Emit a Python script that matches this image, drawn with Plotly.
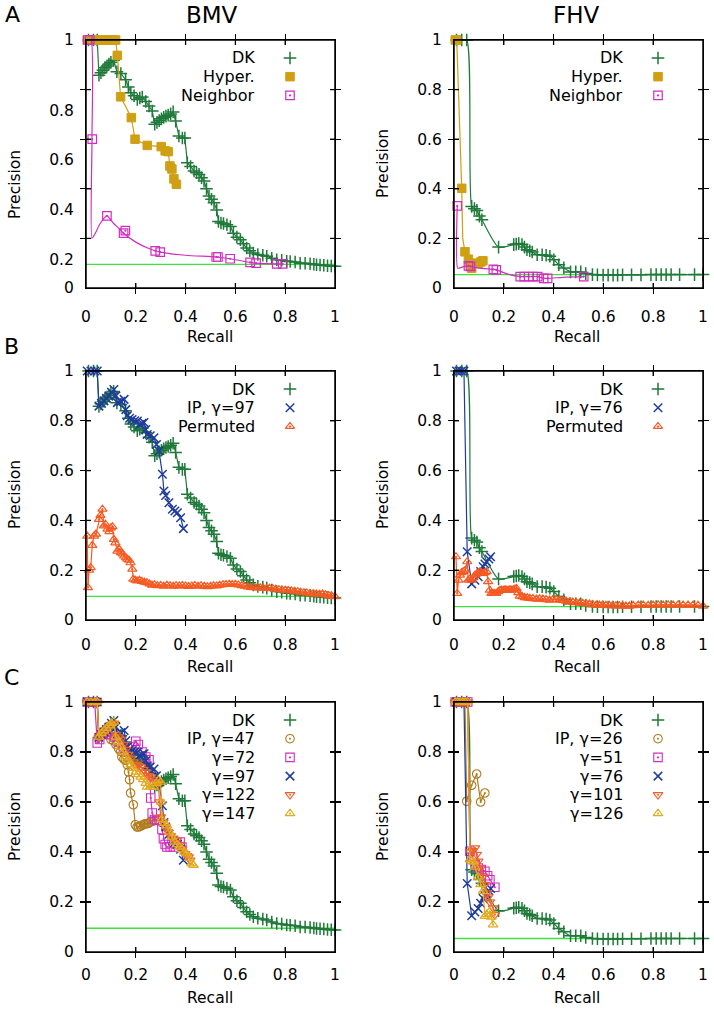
import plotly.graph_objects as go

W, H = 714, 1009
FONT = "DejaVu Sans"

# ---------------- data (recall, precision) ----------------
dk_bmv = [(0.01,1.0),(0.03,1.0),(0.045,1.0),(0.052,0.858),(0.06,0.868),(0.068,0.878),(0.076,0.888),(0.084,0.895),
          (0.092,0.903),(0.10,0.91),(0.111,0.918),(0.124,0.872),(0.14,0.865),(0.159,0.84),(0.17,0.81),(0.18,0.787),
          (0.193,0.775),(0.206,0.76),(0.216,0.766),(0.226,0.77),(0.24,0.752),(0.253,0.734),(0.266,0.714),(0.276,0.66),
          (0.285,0.668),(0.294,0.675),(0.303,0.682),(0.312,0.688),(0.321,0.693),(0.33,0.697),(0.34,0.702),(0.35,0.71),
          (0.36,0.673),(0.373,0.613),(0.387,0.605),(0.397,0.605),(0.407,0.505),(0.42,0.49),(0.434,0.472),(0.444,0.465),
          (0.454,0.458),(0.464,0.445),(0.474,0.431),(0.484,0.40),(0.494,0.371),(0.504,0.358),(0.514,0.344),(0.525,0.315),
          (0.532,0.268),(0.542,0.262),(0.552,0.26),(0.566,0.255),(0.58,0.248),(0.592,0.221),(0.606,0.205),(0.62,0.195),
          (0.632,0.178),(0.645,0.161),(0.658,0.15),(0.672,0.141),(0.69,0.135),(0.71,0.132),(0.726,0.128),(0.746,0.12),
          (0.766,0.114),(0.786,0.112),(0.806,0.108),(0.82,0.107),(0.84,0.105),(0.86,0.10),(0.88,0.10),(0.90,0.098),
          (0.915,0.096),(0.926,0.094),(0.94,0.093),(0.955,0.092),(0.97,0.09),(0.985,0.089),(1.0,0.088)]

dk_fhv = [(0.01,1.0),(0.031,1.0),(0.051,1.0),(0.071,0.329),(0.082,0.32),(0.092,0.313),(0.102,0.29),(0.112,0.275),
          (0.179,0.165),(0.24,0.175),(0.25,0.177),(0.26,0.179),(0.273,0.175),(0.283,0.165),(0.293,0.154),(0.304,0.15),
          (0.314,0.145),(0.334,0.134),(0.354,0.134),(0.37,0.132),(0.385,0.128),(0.401,0.114),(0.421,0.094),(0.441,0.081),
          (0.468,0.065),(0.489,0.065),(0.509,0.065),(0.529,0.058),(0.556,0.054),(0.576,0.053),(0.599,0.052),(0.619,0.052),
          (0.639,0.052),(0.657,0.052),(0.677,0.053),(0.713,0.053),(0.751,0.053),(0.791,0.054),(0.812,0.054),(0.832,0.054),
          (0.852,0.054),(0.872,0.054),(0.906,0.054),(0.966,0.054),(1.0,0.054)]

hyper_bmv = [(0.005,1.0),(0.02,1.0),(0.035,1.0),(0.05,1.0),(0.065,1.0),(0.08,1.0),(0.095,1.0),(0.11,1.0),(0.119,1.0),
             (0.126,0.938),(0.139,0.771),(0.182,0.687),(0.197,0.60),(0.246,0.575),(0.302,0.57),(0.318,0.553),(0.33,0.55),
             (0.337,0.492),(0.345,0.48),(0.353,0.44),(0.363,0.418)]

hyper_fhv_line = [(0.005,1.0),(0.011,1.0),(0.031,0.402),(0.035,0.20),(0.044,0.146),(0.058,0.116),(0.065,0.10),
                  (0.071,0.079),(0.098,0.10),(0.108,0.105),(0.116,0.11)]
hyper_fhv_pts = [(0.005,1.0),(0.011,1.0),(0.031,0.402),(0.044,0.146),(0.058,0.116),(0.065,0.10),(0.071,0.079),
                 (0.098,0.10),(0.108,0.105),(0.116,0.11)]

neigh_bmv_line = [(0.005,1.0),(0.02,1.0),(0.024,0.60),(0.024,0.20),(0.037,0.22),(0.057,0.26),(0.084,0.291),(0.111,0.26),
                  (0.138,0.235),(0.151,0.221),(0.2,0.185),(0.25,0.16),(0.278,0.15),(0.298,0.145),(0.4,0.132),
                  (0.523,0.125),(0.579,0.118),(0.659,0.103),(0.683,0.10),(0.766,0.097),(0.79,0.097)]
neigh_bmv_pts = [(0.007,1.0),(0.015,1.0),(0.025,0.60),(0.084,0.291),(0.151,0.221),(0.158,0.231),(0.278,0.15),
                 (0.298,0.145),(0.523,0.125),(0.53,0.125),(0.579,0.118),(0.659,0.103),(0.683,0.10),(0.766,0.097),(0.79,0.097)]

neigh_fhv_line = [(0.013,0.331),(0.015,0.08),(0.035,0.085),(0.058,0.089),(0.066,0.087),(0.10,0.08),(0.158,0.075),
                  (0.17,0.073),(0.22,0.055),(0.266,0.046),(0.336,0.046),(0.36,0.039),(0.376,0.039),(0.45,0.044),(0.521,0.046)]
neigh_fhv_pts = [(0.013,0.331),(0.058,0.089),(0.066,0.087),(0.158,0.075),(0.17,0.073),(0.266,0.046),(0.282,0.046),
                 (0.30,0.046),(0.317,0.046),(0.336,0.046),(0.36,0.039),(0.376,0.039),(0.521,0.046)]

ip97_bmv = [(0.005,1.0),(0.02,1.0),(0.035,1.0),(0.045,1.0),(0.052,0.859),(0.062,0.87),(0.072,0.88),(0.082,0.89),
            (0.092,0.90),(0.102,0.915),(0.112,0.926),(0.12,0.90),(0.126,0.873),(0.14,0.878),(0.153,0.886),(0.16,0.845),
            (0.166,0.82),(0.175,0.81),(0.185,0.805),(0.195,0.80),(0.206,0.799),(0.215,0.785),(0.225,0.79),(0.233,0.793),
            (0.24,0.765),(0.246,0.745),(0.258,0.74),(0.273,0.732),(0.283,0.705),(0.293,0.679),(0.307,0.585),(0.313,0.518),
            (0.32,0.50),(0.333,0.471),(0.347,0.445),(0.357,0.438),(0.367,0.431),(0.38,0.411),(0.391,0.367)]

perm_bmv = [(0.005,0.337),(0.008,0.13),(0.012,0.20),(0.019,0.21),(0.025,0.30),(0.032,0.337),(0.04,0.345),(0.052,0.404),
            (0.058,0.42),(0.066,0.445),(0.072,0.378),(0.078,0.385),(0.086,0.365),(0.094,0.355),(0.10,0.37),(0.106,0.375),
            (0.112,0.324),(0.118,0.31),(0.126,0.277),(0.133,0.285),(0.14,0.27),(0.147,0.265),(0.153,0.257),(0.16,0.25),
            (0.166,0.244),(0.173,0.24),(0.179,0.23),(0.186,0.204),(0.19,0.164),(0.198,0.16),(0.206,0.157),(0.215,0.16),
            (0.225,0.155),(0.235,0.152),(0.245,0.15),(0.255,0.145),(0.265,0.14),(0.275,0.142),(0.287,0.138),(0.30,0.139),
            (0.312,0.136),(0.325,0.14),(0.337,0.138),(0.35,0.136),(0.362,0.138),(0.375,0.137),(0.387,0.139),(0.40,0.137),
            (0.412,0.135),(0.425,0.137),(0.437,0.139),(0.45,0.136),(0.462,0.138),(0.475,0.136),(0.487,0.134),(0.50,0.136),
            (0.512,0.138),(0.525,0.137),(0.537,0.14),(0.55,0.142),(0.562,0.143),(0.575,0.144),(0.587,0.143),(0.60,0.144),
            (0.612,0.141),(0.625,0.138),(0.637,0.136),(0.65,0.133),(0.662,0.131),(0.675,0.13),(0.687,0.129),(0.70,0.13),
            (0.712,0.128),(0.725,0.127),(0.737,0.128),(0.75,0.126),(0.762,0.124),(0.775,0.122),(0.787,0.121),(0.80,0.12),
            (0.812,0.119),(0.825,0.117),(0.837,0.116),(0.85,0.114),(0.862,0.112),(0.875,0.11),(0.887,0.109),(0.90,0.107),
            (0.912,0.105),(0.925,0.104),(0.937,0.103),(0.95,0.104),(0.962,0.101),(0.975,0.098),(0.987,0.096),(1.0,0.094)]

ip76_fhv = [(0.01,1.0),(0.02,1.0),(0.03,1.0),(0.04,1.0),(0.053,0.274),(0.071,0.145),(0.084,0.16),(0.097,0.174),
            (0.107,0.195),(0.117,0.214),(0.124,0.225),(0.131,0.234),(0.14,0.245),(0.147,0.254)]

perm_fhv = [(0.008,0.254),(0.013,0.107),(0.018,0.16),(0.024,0.18),(0.03,0.19),(0.037,0.194),(0.045,0.20),(0.053,0.234),
            (0.057,0.16),(0.064,0.165),(0.071,0.16),(0.078,0.17),(0.084,0.18),(0.091,0.185),(0.097,0.19),(0.104,0.194),
            (0.11,0.19),(0.117,0.187),(0.124,0.19),(0.131,0.194),(0.137,0.154),(0.144,0.12),(0.15,0.107),(0.157,0.107),
            (0.164,0.107),(0.17,0.107),(0.178,0.115),(0.185,0.12),(0.191,0.12),(0.198,0.12),(0.205,0.122),(0.211,0.12),
            (0.218,0.12),(0.225,0.122),(0.231,0.12),(0.238,0.122),(0.245,0.125),(0.251,0.127),(0.258,0.11),(0.264,0.096),
            (0.274,0.094),(0.284,0.09),(0.294,0.089),(0.304,0.087),(0.317,0.086),(0.331,0.084),(0.344,0.085),(0.357,0.084),
            (0.37,0.082),(0.384,0.08),(0.397,0.082),(0.411,0.083),(0.424,0.08),(0.437,0.079),(0.45,0.076),(0.464,0.073),
            (0.477,0.072),(0.491,0.07),(0.504,0.068),(0.517,0.067),(0.53,0.066),(0.544,0.064),(0.557,0.062),(0.571,0.06),
            (0.584,0.06),(0.597,0.06),(0.61,0.059),(0.624,0.058),(0.637,0.058),(0.65,0.057),(0.664,0.057),(0.677,0.057),
            (0.69,0.056),(0.704,0.056),(0.72,0.058),(0.74,0.06),(0.76,0.06),(0.78,0.059),(0.80,0.06),(0.82,0.061),
            (0.84,0.06),(0.86,0.061),(0.88,0.06),(0.90,0.061),(0.92,0.06),(0.94,0.06),(0.96,0.06),(0.98,0.059),(1.0,0.056)]

ip47_bmv = [(0.005,1.0),(0.02,1.0),(0.035,1.0),(0.045,1.0),(0.05,0.86),(0.06,0.87),(0.07,0.88),(0.08,0.885),(0.09,0.87),
            (0.10,0.85),(0.11,0.845),(0.12,0.83),(0.131,0.813),(0.139,0.803),(0.144,0.78),(0.152,0.772),(0.158,0.767),
            (0.166,0.749),(0.171,0.72),(0.175,0.689),(0.179,0.636),(0.19,0.589),(0.198,0.509),(0.205,0.50),(0.211,0.50),
            (0.218,0.503),(0.225,0.507),(0.232,0.51),(0.238,0.513),(0.245,0.513),(0.251,0.515),(0.258,0.52),(0.265,0.523),
            (0.275,0.525)]
ip72_bmv = [(0.005,1.0),(0.02,1.0),(0.035,1.0),(0.045,0.836),(0.055,0.85),(0.07,0.87),(0.085,0.88),(0.10,0.87),
            (0.115,0.86),(0.13,0.84),(0.15,0.815),(0.17,0.80),(0.185,0.82),(0.20,0.843),(0.21,0.83),(0.225,0.80),
            (0.24,0.78),(0.253,0.769),(0.26,0.616),(0.266,0.556),(0.275,0.53),(0.285,0.527),(0.298,0.527),(0.305,0.49),
            (0.311,0.453),(0.318,0.43),(0.325,0.42),(0.338,0.42),(0.351,0.42),(0.365,0.43),(0.378,0.44),(0.385,0.42)]
ip122_bmv = [(0.005,1.0),(0.02,1.0),(0.035,1.0),(0.045,1.0),(0.052,0.86),(0.062,0.87),(0.072,0.88),(0.082,0.89),
             (0.092,0.90),(0.102,0.91),(0.112,0.915),(0.12,0.87),(0.13,0.86),(0.14,0.85),(0.15,0.83),(0.16,0.81),
             (0.17,0.79),(0.18,0.775),(0.19,0.76),(0.20,0.75),(0.21,0.745),(0.22,0.74),(0.23,0.73),(0.24,0.72),
             (0.25,0.705),(0.26,0.70),(0.27,0.69),(0.28,0.68),(0.29,0.675),(0.295,0.60),(0.30,0.54),(0.31,0.52),
             (0.32,0.50),(0.33,0.48),(0.34,0.465),(0.35,0.455),(0.365,0.447),(0.375,0.43),(0.385,0.413),(0.398,0.393),
             (0.405,0.385),(0.412,0.38),(0.418,0.367)]
ip147_bmv = [(0.005,1.0),(0.02,1.0),(0.035,1.0),(0.045,1.0),(0.052,0.86),(0.062,0.875),(0.072,0.885),(0.082,0.895),
             (0.092,0.905),(0.102,0.915),(0.112,0.92),(0.12,0.86),(0.13,0.84),(0.14,0.82),(0.15,0.80),(0.16,0.78),
             (0.17,0.765),(0.18,0.75),(0.19,0.735),(0.20,0.72),(0.21,0.71),(0.22,0.70),(0.23,0.69),(0.24,0.675),
             (0.245,0.66),(0.258,0.66),(0.271,0.66),(0.281,0.675),(0.291,0.687),(0.30,0.68),(0.302,0.60),(0.305,0.53),
             (0.315,0.515),(0.325,0.505),(0.335,0.48),(0.345,0.46),(0.355,0.44),(0.365,0.43),(0.375,0.42),(0.385,0.41),
             (0.395,0.40),(0.405,0.393),(0.415,0.375),(0.425,0.353),(0.432,0.347)]

ip26_fhv = [(0.005,1.0),(0.015,1.0),(0.025,1.0),(0.035,1.0),(0.044,1.0),(0.051,0.603),(0.071,0.667),(0.091,0.712),
            (0.107,0.60),(0.124,0.636)]
ip51_fhv = [(0.005,1.0),(0.015,1.0),(0.025,1.0),(0.035,1.0),(0.045,1.0),(0.055,1.0),(0.064,0.403),(0.075,0.38),
            (0.085,0.35),(0.097,0.336),(0.11,0.33),(0.124,0.323),(0.135,0.305),(0.144,0.289),(0.164,0.259)]
ip101_fhv = [(0.005,1.0),(0.015,1.0),(0.025,1.0),(0.035,1.0),(0.045,1.0),(0.055,1.0),(0.064,0.40),(0.075,0.405),
             (0.084,0.416),(0.091,0.39),(0.097,0.363),(0.107,0.335),(0.117,0.303),(0.124,0.27),(0.131,0.236),
             (0.137,0.22),(0.144,0.20),(0.157,0.176),(0.164,0.149)]
ip126_fhv = [(0.005,1.0),(0.015,1.0),(0.025,1.0),(0.035,1.0),(0.045,1.0),(0.055,1.0),(0.064,0.37),(0.071,0.363),
             (0.078,0.36),(0.084,0.34),(0.097,0.30),(0.107,0.27),(0.117,0.243),(0.124,0.143),(0.131,0.15),(0.144,0.163),
             (0.15,0.14),(0.157,0.109)]

baseline_bmv = 0.095
baseline_fhv = 0.054

tick_vals = [0, 0.2, 0.4, 0.6, 0.8, 1]
tick_text = ["0", "0.2", "0.4", "0.6", "0.8", "1"]
# panel A/BMV y labels appear displaced relative to the tick marks in the source
a_left_label_pos = [0, 0.114, 0.315, 0.517, 0.714, 1.0]

# ---------------- styles ----------------
C_DK = "#1f7a3a"; C_HY = "#cf9f14"; C_NB = "#d22dbf"; C_IP = "#1f3c9c"
C_PM = "#f65a22"; C_G1 = "#b07c1e"; C_G4 = "#f0602a"; C_G5 = "#e2aa1e"; C_BASE = "#3ee23e"

ST = {
    "dk": dict(color=C_DK, symbol="cross-thin-open", size=9, lw=1.5),
    "hy": dict(color=C_HY, symbol="square", size=8.5, lw=1.0),
    "nb": dict(color=C_NB, symbol="square-open-dot", size=8.5, lw=1.2),
    "ip": dict(color=C_IP, symbol="x-thin-open", size=8.5, lw=1.5),
    "pm": dict(color=C_PM, symbol="triangle-up-open-dot", size=8, lw=1.2),
    "g1": dict(color=C_G1, symbol="circle-open-dot", size=8.5, lw=1.1),
    "g2": dict(color=C_NB, symbol="square-open-dot", size=8.5, lw=1.1),
    "g3": dict(color=C_IP, symbol="x-thin-open", size=8.5, lw=1.5),
    "g4": dict(color=C_G4, symbol="triangle-down-open-dot", size=8.5, lw=1.1),
    "g5": dict(color=C_G5, symbol="triangle-up-open-dot", size=8.5, lw=1.1),
}

# panel pixel boxes on screen: (left, right, top, bottom)
BOX = {1: (86, 335, 40, 288), 2: (454, 703, 40, 288),
       3: (86, 335, 371, 620), 4: (454, 703, 371, 620),
       5: (86, 335, 702, 952), 6: (454, 703, 702, 952)}
XLAB_GAP = {1: 14, 2: 14, 3: 10, 4: 10, 5: 8, 6: 8}

def fx(px):
    return px / W

def fy(py):
    return 1 - py / H

fig = go.Figure()

def ax(i):
    return ("x" if i == 1 else f"x{i}"), ("y" if i == 1 else f"y{i}")

def add_series(i, line, style, pts=None, shape="linear", smoothing=1.0):
    xa, ya = ax(i)
    st = ST[style]
    fig.add_trace(go.Scatter(x=[p[0] for p in line], y=[p[1] for p in line], mode="lines",
                             line=dict(color=st["color"], width=1.2, shape=shape, smoothing=smoothing),
                             xaxis=xa, yaxis=ya, showlegend=False, hoverinfo="skip", cliponaxis=False))
    pts = line if pts is None else pts
    fig.add_trace(go.Scatter(x=[p[0] for p in pts], y=[p[1] for p in pts], mode="markers",
                             marker=dict(color=st["color"], symbol=st["symbol"], size=st["size"],
                                         line=dict(color=st["color"], width=st["lw"])),
                             xaxis=xa, yaxis=ya, showlegend=False, cliponaxis=False, hoverinfo="skip"))

def add_base(i, val):
    xa, ya = ax(i)
    fig.add_trace(go.Scatter(x=[0, 1], y=[val, val], mode="lines", line=dict(color=C_BASE, width=1.3),
                             xaxis=xa, yaxis=ya, showlegend=False, hoverinfo="skip"))

def add_legend(i, items):
    l, r, t, b = BOX[i]
    w, h = r - l, b - t
    xa, ya = ax(i)
    for k, (label, style) in enumerate(items):
        yy = 1 - (18 + 18.7 * k) / h
        st = ST[style]
        fig.add_annotation(x=1 - 78 / w, y=yy, xref=xa, yref=ya, text=label,
                           showarrow=False, xanchor="right", yanchor="middle",
                           font=dict(family=FONT, size=16, color="black"))
        fig.add_trace(go.Scatter(x=[1 - 45 / w], y=[yy], mode="markers",
                                 marker=dict(color=st["color"], symbol=st["symbol"], size=st["size"],
                                             line=dict(color=st["color"], width=st["lw"])),
                                 xaxis=xa, yaxis=ya, showlegend=False, hoverinfo="skip", cliponaxis=False))

def add_frame(i):
    # plot box and inward tick marks on all four sides
    l, r, t, b = BOX[i]
    w, h = r - l, b - t
    xa, ya = ax(i)
    ln = dict(color="black", width=1.3)
    fig.add_shape(type="rect", xref=f"{xa} domain", yref=f"{ya} domain", x0=0, x1=1, y0=0, y1=1,
                  line=dict(color="black", width=1.5), layer="above")
    for v in tick_vals[1:-1]:
        fig.add_shape(type="line", xref=xa, yref=f"{ya} domain", x0=v, x1=v, y0=0, y1=5 / h, line=ln)
        fig.add_shape(type="line", xref=xa, yref=f"{ya} domain", x0=v, x1=v, y0=1 - 5 / h, y1=1, line=ln)
        fig.add_shape(type="line", xref=f"{xa} domain", yref=ya, x0=0, x1=5 / w, y0=v, y1=v, line=ln)
        fig.add_shape(type="line", xref=f"{xa} domain", yref=ya, x0=1 - 5 / w, x1=1, y0=v, y1=v, line=ln)

# Panel A
add_base(1, baseline_bmv)
add_series(1, dk_bmv, "dk")
add_series(1, hyper_bmv, "hy")
add_series(1, neigh_bmv_line, "nb", pts=neigh_bmv_pts, shape="spline", smoothing=0.6)
add_legend(1, [("DK", "dk"), ("Hyper.", "hy"), ("Neighbor", "nb")])

add_base(2, baseline_fhv)
add_series(2, dk_fhv, "dk", shape="spline", smoothing=0.7)
add_series(2, hyper_fhv_line, "hy", pts=hyper_fhv_pts)
add_series(2, neigh_fhv_line, "nb", pts=neigh_fhv_pts, shape="spline", smoothing=0.5)
add_legend(2, [("DK", "dk"), ("Hyper.", "hy"), ("Neighbor", "nb")])

# Panel B
add_base(3, baseline_bmv)
add_series(3, dk_bmv, "dk")
add_series(3, ip97_bmv, "ip")
add_series(3, perm_bmv, "pm")
add_legend(3, [("DK", "dk"), ("IP, γ=97", "ip"), ("Permuted", "pm")])

add_base(4, baseline_fhv)
add_series(4, dk_fhv, "dk", shape="spline", smoothing=0.7)
add_series(4, ip76_fhv, "ip")
add_series(4, perm_fhv, "pm")
add_legend(4, [("DK", "dk"), ("IP, γ=76", "ip"), ("Permuted", "pm")])

# Panel C
add_base(5, baseline_bmv)
add_series(5, dk_bmv, "dk")
add_series(5, ip47_bmv, "g1")
add_series(5, ip72_bmv, "g2")
add_series(5, ip97_bmv, "g3")
add_series(5, ip122_bmv, "g4")
add_series(5, ip147_bmv, "g5")
add_legend(5, [("DK", "dk"), ("IP, γ=47", "g1"), ("γ=72", "g2"), ("γ=97", "g3"), ("γ=122", "g4"), ("γ=147", "g5")])

add_base(6, baseline_fhv)
add_series(6, dk_fhv, "dk", shape="spline", smoothing=0.7)
add_series(6, ip26_fhv, "g1")
add_series(6, ip51_fhv, "g2")
add_series(6, ip76_fhv, "g3")
add_series(6, ip101_fhv, "g4")
add_series(6, ip126_fhv, "g5")
add_legend(6, [("DK", "dk"), ("IP, γ=26", "g1"), ("γ=51", "g2"), ("γ=76", "g3"), ("γ=101", "g4"), ("γ=126", "g5")])

for i in BOX:
    add_frame(i)

# ---------------- axes ----------------
layout = dict(width=W, height=H, margin=dict(l=0, r=0, t=0, b=0, autoexpand=False),
              paper_bgcolor="white", plot_bgcolor="rgba(0,0,0,0)", hovermode=False,
              font=dict(family=FONT, size=15.5, color="black"), showlegend=False)
TF = dict(family=FONT, size=15.5, color="black")
for i, (l, r, t, b) in BOX.items():
    xa, ya = ax(i)
    main = dict(range=[0, 1], tickvals=tick_vals, ticks="inside", ticklen=5, tickwidth=1.2, tickcolor="black",
                mirror="allticks", showline=True, linecolor="black", linewidth=1.4, showgrid=False,
                zeroline=False, showticklabels=False, automargin=False)
    layout["xaxis" if i == 1 else f"xaxis{i}"] = dict(main, domain=[fx(l), fx(r)], anchor=ya)
    layout["yaxis" if i == 1 else f"yaxis{i}"] = dict(main, domain=[fy(b), fy(t)], anchor=xa)
    # label-only overlay axes (transparent outside ticks set the label gap)
    lab = dict(range=[0, 1], ticks="outside", tickcolor="rgba(0,0,0,0)", showline=False, showgrid=False,
               zeroline=False, tickfont=TF, automargin=False, ticktext=tick_text)
    layout[f"xaxis{10 + i}"] = dict(lab, overlaying=xa, anchor=ya, side="bottom", tickvals=tick_vals,
                                    ticklen=XLAB_GAP[i])
    layout[f"yaxis{10 + i}"] = dict(lab, overlaying=ya, anchor=xa, side="left",
                                    tickvals=(a_left_label_pos if i == 1 else tick_vals), ticklen=8)
    fig.add_trace(go.Scatter(x=[None], y=[None], xaxis=f"x{10 + i}", yaxis=ya, showlegend=False))
    fig.add_trace(go.Scatter(x=[None], y=[None], xaxis=xa, yaxis=f"y{10 + i}", showlegend=False))
fig.update_layout(**layout)

def paper_text(px, py, text, size, angle=0):
    fig.add_annotation(x=fx(px), y=fy(py), xref="paper", yref="paper", text=text, showarrow=False,
                       xanchor="center", yanchor="middle", textangle=angle,
                       font=dict(family=FONT, size=size, color="black"))

paper_text(212, 15, "BMV", 23)
paper_text(576, 15, "FHV", 23)
paper_text(12, 15, "A", 22)
paper_text(11, 346, "B", 22)
paper_text(11, 677, "C", 22)
for (px, py) in [(15, 185), (383, 164), (15, 495), (383, 495), (15, 827), (383, 827)]:
    paper_text(px, py, "Precision", 15.5, angle=-90)
for (px, py) in [(210, 337), (577, 337), (210, 667), (577, 667), (210, 998), (577, 998)]:
    paper_text(px, py, "Recall", 15.5)

# the page body has a default margin; remove it so the figure fills the window exactly
fig.write_html("out.html", config={"displayModeBar": False, "staticPlot": True},
               post_script="document.body.style.margin='0';document.body.style.padding='0';"
                           "document.body.style.overflow='hidden';")
